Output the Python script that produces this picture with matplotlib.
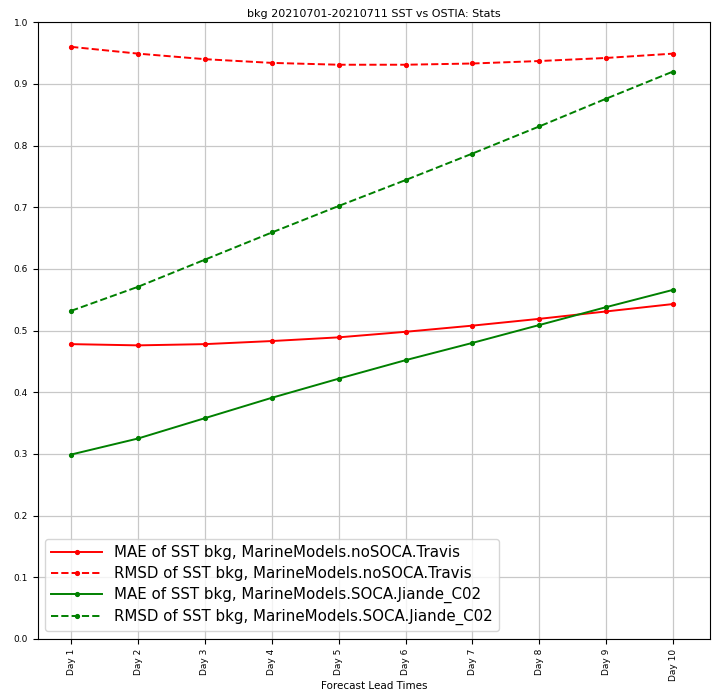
import numpy as np
import matplotlib
matplotlib.use("Agg")
import matplotlib.pyplot as plt

# 预报天数
days = ["Day 1", "Day 2", "Day 3", "Day 4", "Day 5",
        "Day 6", "Day 7", "Day 8", "Day 9", "Day 10"]

mae_nosoca = [0.478, 0.476, 0.478, 0.483, 0.489, 0.498, 0.508, 0.519, 0.531, 0.543]
rmsd_nosoca = [0.960, 0.949, 0.940, 0.934, 0.931, 0.931, 0.933, 0.937, 0.942, 0.949]
mae_soca = [0.299, 0.325, 0.358, 0.391, 0.422, 0.452, 0.480, 0.509, 0.538, 0.566]
rmsd_soca = [0.532, 0.571, 0.615, 0.659, 0.702, 0.744, 0.787, 0.831, 0.876, 0.920]

fig = plt.figure(figsize=(7.12, 6.93), dpi=100)
ax = fig.add_axes([0.053, 0.078, 0.944, 0.890])

x = np.arange(len(days))
ax.plot(x, mae_nosoca, "r.-", ms=5.5, lw=1.4,
        label="MAE of SST bkg, MarineModels.noSOCA.Travis")
ax.plot(x, rmsd_nosoca, "r.--", ms=5.5, lw=1.4,
        label="RMSD of SST bkg, MarineModels.noSOCA.Travis")
ax.plot(x, mae_soca, "g.-", ms=5.5, lw=1.4,
        label="MAE of SST bkg, MarineModels.SOCA.Jiande_C02")
ax.plot(x, rmsd_soca, "g.--", ms=5.5, lw=1.4,
        label="RMSD of SST bkg, MarineModels.SOCA.Jiande_C02")

ax.set_ylim(0.0, 1.0)
ax.set_xlim(-0.5, 9.55)
ax.set_yticks(np.arange(0, 1.01, 0.1))
ax.set_xticks(x)
ax.set_xticklabels(days, rotation=90)
ax.tick_params(labelsize=6.5)
ax.grid(True, color="#c8c8c8", lw=0.9)
ax.set_axisbelow(True)

ax.set_title("bkg 20210701-20210711 SST vs OSTIA: Stats", fontsize=8, pad=4)
ax.set_xlabel("Forecast Lead Times", fontsize=7.5)
ax.xaxis.set_label_coords(0.5, -0.068)
ax.legend(loc="lower left", fontsize=10.8, handlelength=3.4,
          labelspacing=0.4, borderaxespad=0.5)

fig.savefig("out.png", dpi=100)
